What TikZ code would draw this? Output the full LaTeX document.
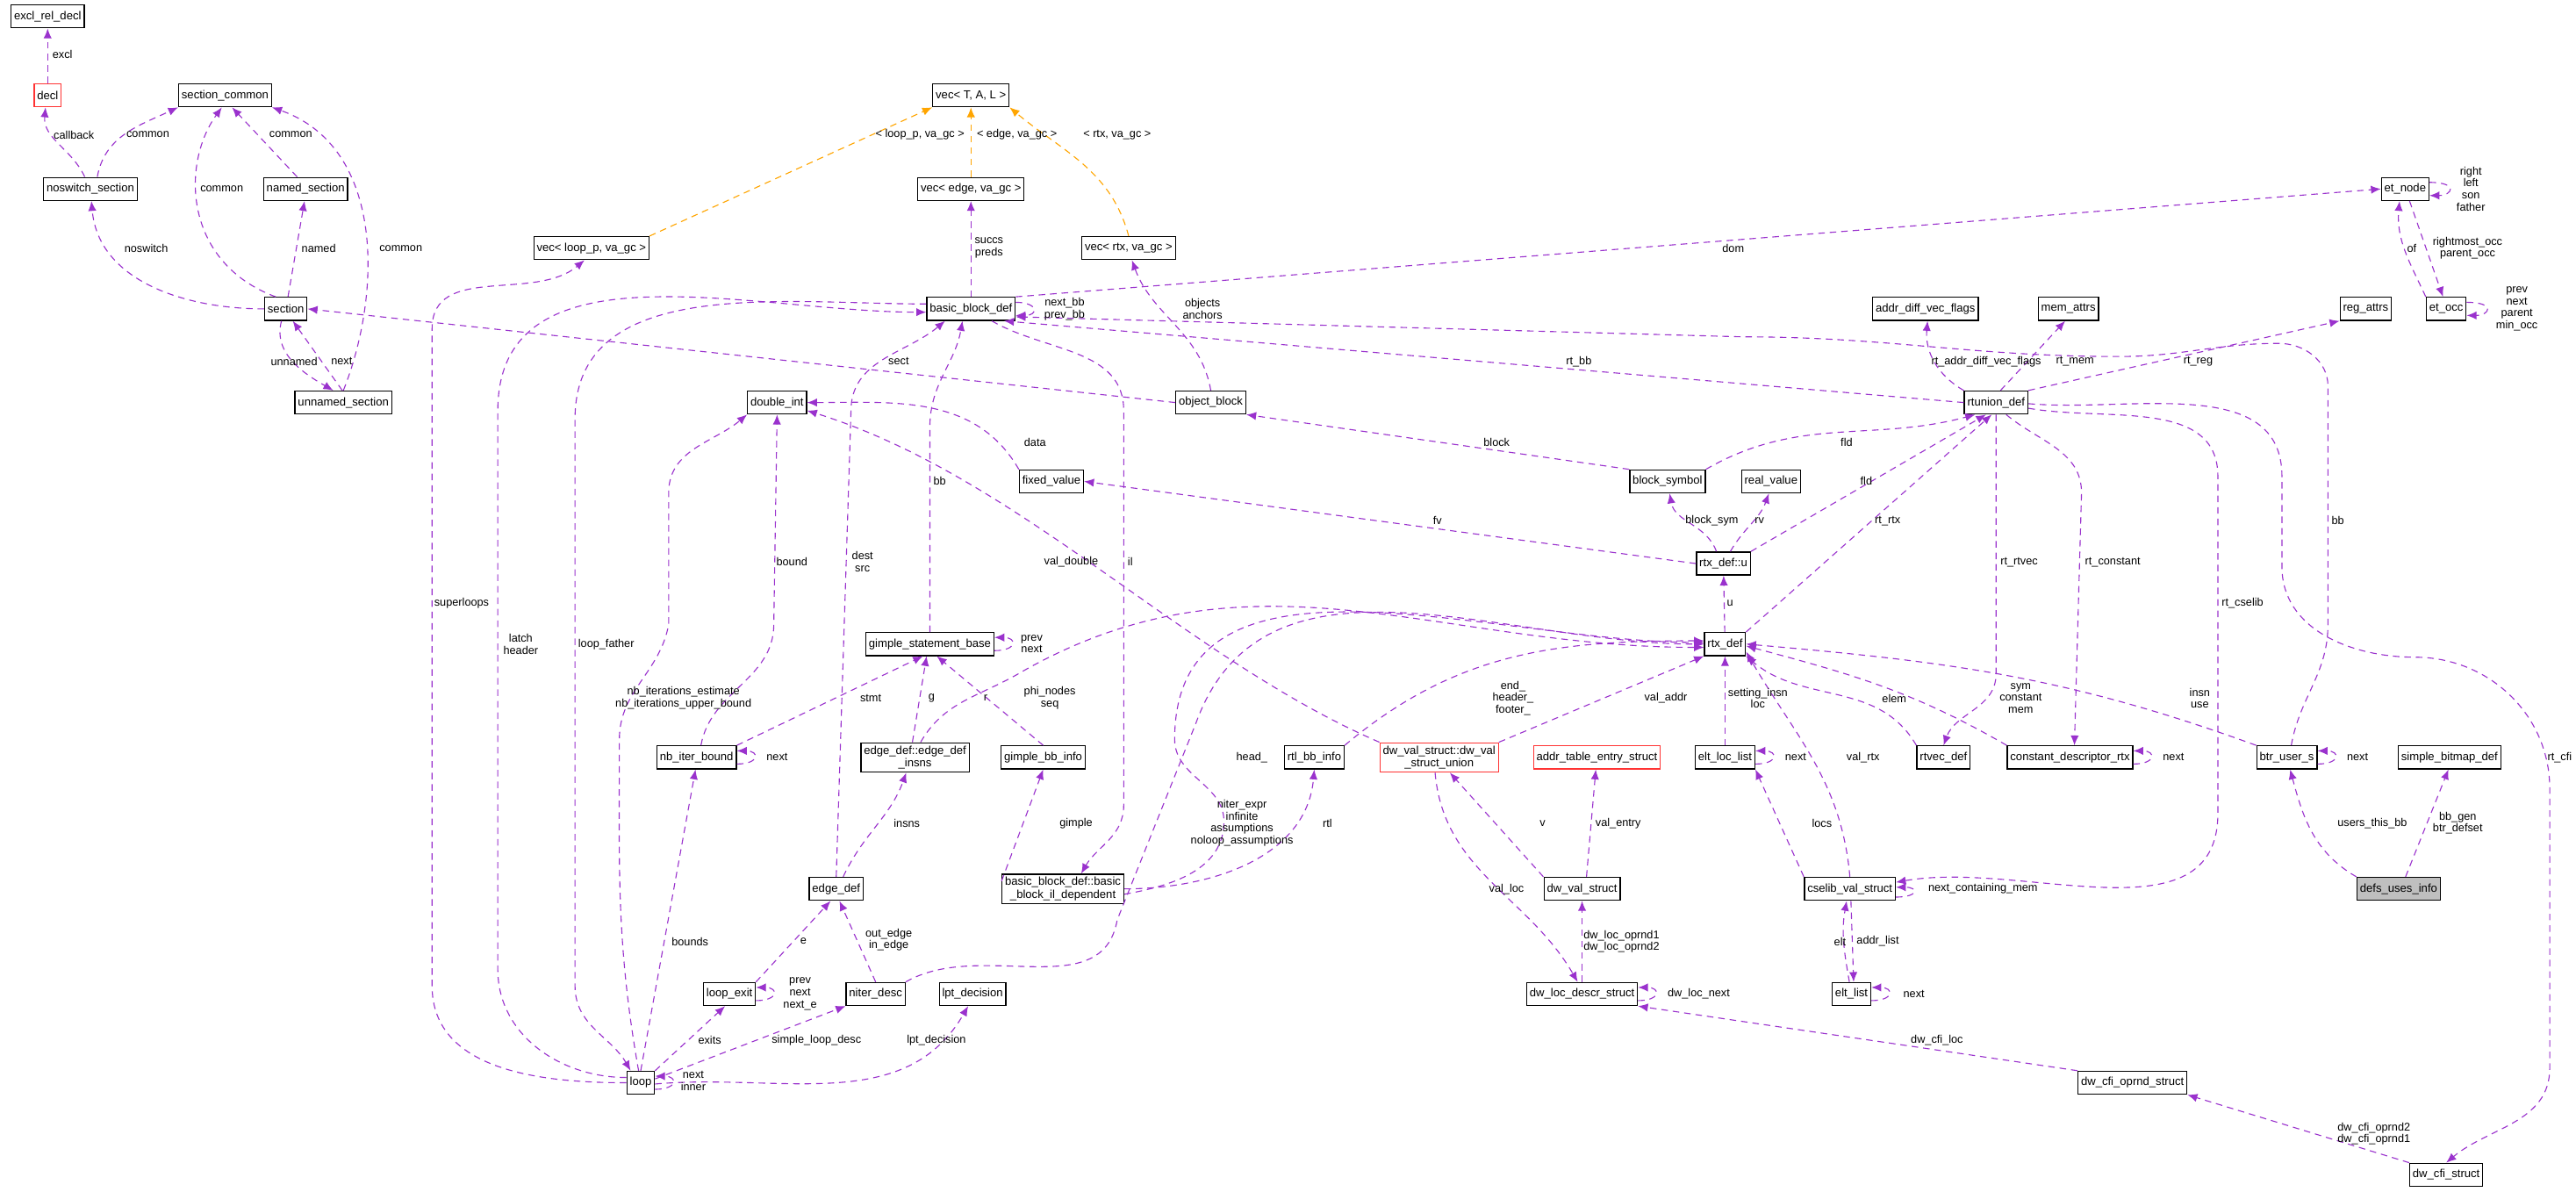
\documentclass[tikz,border=0pt]{standalone}
\usepackage{fontspec}
\setmainfont{Liberation Sans}
\usetikzlibrary{arrows.meta}
\definecolor{refc}{RGB}{154,50,205}
\definecolor{tplc}{RGB}{255,165,0}
\tikzset{
  cls/.style={draw, line width=0.7pt, minimum height=14pt, inner sep=1.8pt, font=\fontsize{7}{7.8}\selectfont, align=center, fill=white},
  redcls/.style={cls, draw=red!80},
  ref/.style={refc, line width=0.6pt, dash pattern=on 4pt off 3pt, -{Latex[length=6pt,width=5pt]}},
  tpl/.style={ref, tplc},
  lbl/.style={font=\fontsize{6.8}{7.3}\selectfont, align=center, inner sep=0.5pt},
}
\begin{document}
\begin{tikzpicture}[x=1pt,y=-1pt]
\useasboundingbox (0,0) rectangle (1568,725);
% classes
\node[cls] (excl) at (29,10) {excl\_rel\_decl};
\node[redcls] (decl) at (29,58) {decl};
\node[cls] (seccommon) at (137,58) {section\_common};
\node[cls] (noswitch) at (55,115) {noswitch\_section};
\node[cls] (named) at (186,115) {named\_section};
\node[cls] (section) at (174,188) {section};
\node[cls] (unnamed) at (209,245) {unnamed\_section};
\node[cls] (veclp) at (360,151) {vec< loop\_p, va\_gc >};
\node[cls] (vectal) at (591,58) {vec< T, A, L >};
\node[cls] (vecedge) at (591,115) {vec< edge, va\_gc >};
\node[cls] (vecrtx) at (687,151) {vec< rtx, va\_gc >};
\node[cls] (bbdef) at (591,188) {basic\_block\_def};
\node[cls] (objblock) at (737,245) {object\_block};
\node[cls] (dblint) at (473,245) {double\_int};
\node[cls] (fixedval) at (640,293) {fixed\_value};
\node[cls] (blocksym) at (1015,293) {block\_symbol};
\node[cls] (realval) at (1078,293) {real\_value};
\node[cls] (rtxu) at (1049,343) {rtx\_def::u};
\node[cls] (etnode) at (1464,115) {et\_node};
\node[cls] (adflags) at (1172,188) {addr\_diff\_vec\_flags};
\node[cls] (memattrs) at (1259,188) {mem\_attrs};
\node[cls] (regattrs) at (1440,188) {reg\_attrs};
\node[cls] (etocc) at (1489,188) {et\_occ};
\node[cls] (rtunion) at (1215,245) {rtunion\_def};
\node[cls] (rtxdef) at (1050,392) {rtx\_def};
\node[cls] (gsbase) at (566,392) {gimple\_statement\_base};
\node[cls] (nbiter) at (424,461) {nb\_iter\_bound};
\node[cls] (insns) at (557,461) {edge\_def::edge\_def\\\_insns};
\node[cls] (gbbinfo) at (635,461) {gimple\_bb\_info};
\node[cls] (rtlbb) at (800,461) {rtl\_bb\_info};
\node[redcls] (dvunion) at (876,461) {dw\_val\_struct::dw\_val\\\_struct\_union};
\node[redcls] (addrtab) at (972,461) {addr\_table\_entry\_struct};
\node[cls] (eltloc) at (1050,461) {elt\_loc\_list};
\node[cls] (rtvec) at (1183,461) {rtvec\_def};
\node[cls] (cdrtx) at (1260,461) {constant\_descriptor\_rtx};
\node[cls] (btruser) at (1392,461) {btr\_user\_s};
\node[cls] (sbitmap) at (1491,461) {simple\_bitmap\_def};
\node[cls] (edgedef) at (509,541) {edge\_def};
\node[cls] (ildep) at (647,541) {basic\_block\_def::basic\\\_block\_il\_dependent};
\node[cls] (dwval) at (963,541) {dw\_val\_struct};
\node[cls] (cselib) at (1126,541) {cselib\_val\_struct};
\node[cls, fill=black!25] (defsuses) at (1460,541) {defs\_uses\_info};
\node[cls] (loopexit) at (444,605) {loop\_exit};
\node[cls] (niterdesc) at (533,605) {niter\_desc};
\node[cls] (lptdec) at (592,605) {lpt\_decision};
\node[cls] (dwloc) at (963,605) {dw\_loc\_descr\_struct};
\node[cls] (eltlist) at (1127,605) {elt\_list};
\node[cls] (loop) at (390,659) {loop};
\node[cls] (cfioprnd) at (1298,659) {dw\_cfi\_oprnd\_struct};
\node[cls] (cfistruct) at (1489,715) {dw\_cfi\_struct};

% template instances
\draw[tpl] (veclp.north east) -- (vectal.south west);
\draw[tpl] (vecedge) -- (vectal);
\draw[tpl] (vecrtx.north) to[out=105,in=-40] (vectal.south east);

% sections
\draw[ref] (decl) -- (excl);
\draw[ref] (noswitch.115) to[out=115,in=-95] (decl.-100);
\draw[ref] (noswitch.60) to[out=80,in=205] (seccommon.south west);
\draw[ref] (named.125) -- (seccommon.-60);
\draw[ref] (section.130) .. controls (112,160) and (110,100) .. (seccommon.-105);
\draw[ref] (unnamed.north) .. controls (232,180) and (235,90) .. (seccommon.south east);
\draw[ref] (section.west) to[out=180,in=-85] (noswitch.-85);
\draw[ref] (section.80) -- (named.-95);
\draw[ref] (section.-110) to[out=-105,in=150] (unnamed.130);
\draw[ref] (unnamed.95) -- (section.-60);
\draw[ref] (objblock.west) -- (section.east);

% basic blocks
\draw[ref] (bbdef) -- (vecedge);
\draw[ref] (objblock.north) to[out=100,in=-70] (vecrtx.-75);
\draw[ref] (bbdef.north east) -- (etnode.west);
\draw[ref] ([yshift=4pt]bbdef.east) .. controls +(14,0) and +(14,0) .. ([yshift=-4pt]bbdef.east);
\draw[ref] ([yshift=4pt]etnode.east) .. controls +(18,0) and +(14,0) .. ([yshift=-4pt]etnode.east);
\draw[ref] ([yshift=4pt]etocc.east) .. controls +(18,0) and +(14,0) .. ([yshift=-4pt]etocc.east);
\draw[ref] (etocc.north west) to[out=115,in=-95] (etnode.-115);
\draw[ref] (etnode.-70) -- (etocc.105);
\draw[ref] (rtunion.north west) to[out=150,in=-95] (adflags.-80);
\draw[ref] (rtunion.70) -- (memattrs.-105);
\draw[ref] (rtunion.north east) -- (regattrs.south west);
\draw[ref] (rtunion.west) -- (bbdef.-20);
\draw[ref] (btruser.70) to[out=80,in=-90] (1417,380) -- (1417,235) to[out=90,in=0] (1387,209) to[out=180,in=0] (1290,217) to[out=180,in=0] (1060,205) -- (bbdef.-10);
\draw[ref] (blocksym.north west) -- (objblock.south east);
\draw[ref] (blocksym.north east) to[out=30,in=-165] (rtunion.-150);
\draw[ref] (rtxu.north east) -- (rtunion.-130);
\draw[ref] (rtxu.120) to[out=110,in=-80] (blocksym.-80);
\draw[ref] (rtxu.60) to[out=60,in=-110] (realval.-100);
\draw[ref] (rtxu.west) -- (fixedval.east);
\draw[ref] (fixedval.north west) to[out=120,in=0] (dblint.east);
\draw[ref] (rtxdef) -- (rtxu);
\draw[ref] (rtxdef.north east) -- (rtunion.-110);
\draw[ref] (rtunion.-90) -- (1215,410) to[out=-90,in=70] (rtvec.north);
\draw[ref] (rtunion.-50) to[out=-40,in=90] (1267,300) -- (cdrtx.70);
\draw[ref] (rtunion.-10) to[out=-10,in=90] (1350,290) -- (1350,495) to[out=-90,in=10] ([yshift=4pt]cselib.east);
\draw[ref] (rtunion.-2) to[out=-5,in=90] (1389,290) -- (1389,345) to[out=-90,in=180] (1470,400) to[out=0,in=90] (1552,480) -- (1552,650) to[out=-90,in=40] (cfistruct.north);

% loops
\draw[ref] (loop.west) to[out=180,in=-90] (263,600) -- (263,200) to[out=90,in=-140] (veclp.-120);
\draw[ref] (loop.160) to[out=180,in=-90] (303,590) -- (303,250) to[out=90,in=180] ([yshift=-2pt]bbdef.west);
\draw[ref] ([yshift=3pt]bbdef.west) to[out=180,in=90] (350,255) -- (350,600) to[out=-90,in=120] (loop.130);
\draw[ref] (loop.100) to[out=100,in=-90] (377,450) to[out=90,in=-100] (407,380) -- (407,300) to[out=90,in=-140] (dblint.south west);
\draw[ref] (nbiter.70) to[out=80,in=-90] (471,380) -- (dblint.south);
\draw[ref] ([yshift=-4pt]nbiter.east) .. controls +(14,0) and +(14,0) .. ([yshift=4pt]nbiter.east);
\draw[ref] (nbiter.north east) -- (gsbase.-120);
\draw[ref] (loop.north) -- (nbiter.-95);
\draw[ref] (loop.north east) -- (loopexit.-110);
\draw[ref] ([yshift=-4pt]loopexit.east) .. controls +(14,0) and +(14,0) .. ([yshift=4pt]loopexit.east);
\draw[ref] (loopexit.north east) -- (edgedef.-115);
\draw[ref] (niterdesc.north) -- (edgedef.-75);
\draw[ref] (loop.15) -- (niterdesc.south west);
\draw[ref] (loop.-5) to[out=5,in=-120] (lptdec.-110);
\draw[ref] ([yshift=-4pt]loop.east) .. controls +(14,0) and +(14,0) .. ([yshift=4pt]loop.east);
\draw[ref] (edgedef.north) -- (518,250) to[out=90,in=-140] (bbdef.-155);
\draw[ref] (edgedef.60) to[out=65,in=-110] (insns.-120);
\draw[ref] (insns.100) -- (gsbase.-105);
\draw[ref] (insns.70) to[out=60,in=-150] (620,410) to[out=30,in=180] ([yshift=-2pt]rtxdef.west);
\draw[ref] (gsbase.north) -- (566,260) to[out=90,in=-100] (bbdef.-125);
\draw[ref] ([yshift=-4pt]gsbase.east) .. controls +(14,0) and +(14,0) .. ([yshift=4pt]gsbase.east);
\draw[ref] (gbbinfo.north) -- (gsbase.-60);
\draw[ref] (ildep.-175) ++(0,-8) -- (gbbinfo.south);
\draw[ref] (ildep.east) to[out=0,in=-95] (rtlbb.south);
\draw[ref] (bbdef.-30) to[out=-30,in=90] (684,250) -- (684,490) to[out=-90,in=60] (ildep.40);
\draw[ref] (rtlbb.north east) to[out=40,in=180] ([yshift=2pt]rtxdef.west);
\draw[ref] (ildep.-5) to[out=10,in=-90] (745,500) to[out=90,in=-90] (715,450) to[out=90,in=180] ([yshift=1pt]rtxdef.west);
\draw[ref] (niterdesc.north east) to[out=30,in=-100] (680,560) -- (728,440) to[out=70,in=180] (rtxdef.west);

% dwarf
\draw[ref] (dvunion.north west) .. controls (720,400) and (620,290) .. (dblint.-15);
\draw[ref] (dvunion.north east) -- (rtxdef.south west);
\draw[ref] (dvunion.-105) to[out=-85,in=120] (dwloc.110);
\draw[ref] (dwval.north west) -- (dvunion.-55);
\draw[ref] (dwval.70) -- (addrtab.-95);
\draw[ref] (dwloc) -- (dwval);
\draw[ref] ([yshift=-4pt]dwloc.east) .. controls +(14,0) and +(14,0) .. ([yshift=4pt]dwloc.east);
\draw[ref] (cfioprnd.north west) -- (dwloc.south east);
\draw[ref] (cfistruct.north west) -- (cfioprnd.south east);

% rtx users
\draw[ref] (eltloc) -- (rtxdef);
\draw[ref] ([yshift=-4pt]eltloc.east) .. controls +(14,0) and +(14,0) .. ([yshift=4pt]eltloc.east);
\draw[ref] (rtvec.north west) to[out=120,in=-40] (rtxdef.south east);
\draw[ref] (cdrtx.north west) to[out=150,in=-15] (rtxdef.-5);
\draw[ref] ([yshift=-4pt]cdrtx.east) .. controls +(14,0) and +(14,0) .. ([yshift=4pt]cdrtx.east);
\draw[ref] (cselib.north) to[out=95,in=-60] (rtxdef.-20);
\draw[ref] (cselib.north west) -- (eltloc.south east);
\draw[ref] ([yshift=-5pt]cselib.east) .. controls +(14,0) and +(14,0) .. ([yshift=1pt]cselib.east);
\draw[ref] (cselib.-85) -- (eltlist.80);
\draw[ref] (eltlist.100) to[out=100,in=-100] (cselib.-105);
\draw[ref] ([yshift=-4pt]eltlist.east) .. controls +(14,0) and +(14,0) .. ([yshift=4pt]eltlist.east);
\draw[ref] (btruser.north west) to[out=160,in=-5] (rtxdef.east);
\draw[ref] ([yshift=-4pt]btruser.east) .. controls +(14,0) and +(14,0) .. ([yshift=4pt]btruser.east);
\draw[ref] (defsuses.north west) to[out=150,in=-75] (btruser.-75);
\draw[ref] (defsuses.60) -- (sbitmap.-95);

% labels
\node[lbl] (lexcl) at (38,33) {excl};
\node[lbl] (lcallback) at (45,82) {callback};
\node[lbl] (lcommon1) at (90,82) {common};
\node[lbl] (lcommon2) at (177,82) {common};
\node[lbl] (lcommon3) at (135,115) {common};
\node[lbl] (lnamed) at (194,151) {named};
\node[lbl] (lcommon4) at (244,151) {common};
\node[lbl] (lnoswitch) at (89,151) {noswitch};
\node[lbl] (lunnamed) at (179,220) {unnamed};
\node[lbl] (lnext1) at (208,220) {next};
\node[lbl] (lsuper) at (281,367) {superloops};
\node[lbl] (lbound) at (482,342) {bound};
\node[lbl] (ldest) at (525,342) {dest\\src};
\node[lbl] (lvlp) at (560,82) {< loop\_p, va\_gc >};
\node[lbl] (lvedge) at (619,82) {< edge, va\_gc >};
\node[lbl] (lvrtx) at (680,82) {< rtx, va\_gc >};
\node[lbl] (lsuccs) at (602,151) {succs\\preds};
\node[lbl] (lobj) at (732,188) {objects\\anchors};
\node[lbl] (lnextbb) at (648,188) {next\_bb\\prev\_bb};
\node[lbl] (ldom) at (1055,151) {dom};
\node[lbl] (lsect) at (547,220) {sect};
\node[lbl] (lrtbb) at (961,220) {rt\_bb};
\node[lbl] (ldata) at (630,269) {data};
\node[lbl] (lblock) at (911,269) {block};
\node[lbl] (lbb1) at (572,293) {bb};
\node[lbl] (lfv) at (875,317) {fv};
\node[lbl] (lbsym) at (1042,317) {block\_sym};
\node[lbl] (lvdbl) at (652,342) {val\_double};
\node[lbl] (lil) at (688,342) {il};
\node[lbl] (lu) at (1053,367) {u};
\node[lbl] (lright) at (1504,115) {right\\left\\son\\father};
\node[lbl] (lof) at (1468,151) {of};
\node[lbl] (lrmocc) at (1502,151) {rightmost\_occ\\parent\_occ};
\node[lbl] (lprev1) at (1532,188) {prev\\next\\parent\\min\_occ};
\node[lbl] (ladv) at (1209,220) {rt\_addr\_diff\_vec\_flags};
\node[lbl] (lrtmem) at (1263,220) {rt\_mem};
\node[lbl] (lrtreg) at (1338,220) {rt\_reg};
\node[lbl] (lfld1) at (1124,269) {fld};
\node[lbl] (lfld2) at (1136,293) {fld};
\node[lbl] (lrv) at (1071,317) {rv};
\node[lbl] (lrtrtx) at (1149,317) {rt\_rtx};
\node[lbl] (lbb2) at (1423,317) {bb};
\node[lbl] (lrtvec) at (1229,342) {rt\_rtvec};
\node[lbl] (lrtconst) at (1286,342) {rt\_constant};
\node[lbl] (lrtcselib) at (1365,367) {rt\_cselib};
\node[lbl] (llatch) at (317,392) {latch\\header};
\node[lbl] (llf) at (369,392) {loop\_father};
\node[lbl] (lnbit) at (416,425) {nb\_iterations\_estimate\\nb\_iterations\_upper\_bound};
\node[lbl] (lnext2) at (473,461) {next};
\node[lbl] (lbounds) at (420,573) {bounds};
\node[lbl] (le) at (489,573) {e};
\node[lbl] (lprev2) at (487,605) {prev\\next\\next\_e};
\node[lbl] (lexits) at (432,633) {exits};
\node[lbl] (lsld) at (497,633) {simple\_loop\_desc};
\node[lbl] (lnext3) at (422,658) {next\\inner};
\node[lbl] (lstmt) at (530,425) {stmt};
\node[lbl] (loutedge) at (541,572) {out\_edge\\in\_edge};
\node[lbl] (lprev3) at (628,392) {prev\\next};
\node[lbl] (lg) at (567,425) {g};
\node[lbl] (lr) at (600,425) {r};
\node[lbl] (lphi) at (639,425) {phi\_nodes\\seq};
\node[lbl] (linsns) at (552,501) {insns};
\node[lbl] (lgimple) at (655,501) {gimple};
\node[lbl] (lhead) at (762,461) {head\_};
\node[lbl] (lniter) at (756,501) {niter\_expr\\infinite\\assumptions\\noloop\_assumptions};
\node[lbl] (lrtl) at (808,501) {rtl};
\node[lbl] (lend) at (921,425) {end\_\\header\_\\footer\_};
\node[lbl] (lvaddr) at (1014,425) {val\_addr};
\node[lbl] (lv) at (939,501) {v};
\node[lbl] (lventry) at (985,501) {val\_entry};
\node[lbl] (lvloc) at (917,541) {val\_loc};
\node[lbl] (lopr) at (987,573) {dw\_loc\_oprnd1\\dw\_loc\_oprnd2};
\node[lbl] (ldwnext) at (1034,605) {dw\_loc\_next};
\node[lbl] (llpt) at (570,633) {lpt\_decision};
\node[lbl] (lsetting) at (1070,425) {setting\_insn\\loc};
\node[lbl] (lelem) at (1153,425) {elem};
\node[lbl] (lsym) at (1230,425) {sym\\constant\\mem};
\node[lbl] (linsn) at (1339,425) {insn\\use};
\node[lbl] (lnext4) at (1093,461) {next};
\node[lbl] (lnext5) at (1323,461) {next};
\node[lbl] (lnext6) at (1435,461) {next};
\node[lbl] (lvalrtx) at (1134,461) {val\_rtx};
\node[lbl] (lrtcfi) at (1558,461) {rt\_cfi};
\node[lbl] (llocs) at (1109,501) {locs};
\node[lbl] (lusers) at (1444,501) {users\_this\_bb};
\node[lbl] (lbbgen) at (1496,501) {bb\_gen\\btr\_defset};
\node[lbl] (lncm) at (1207,541) {next\_containing\_mem};
\node[lbl] (lelt) at (1120,573) {elt};
\node[lbl] (laddrl) at (1143,573) {addr\_list};
\node[lbl] (lnext7) at (1165,605) {next};
\node[lbl] (lcfiloc) at (1179,633) {dw\_cfi\_loc};
\node[lbl] (lcfiopr) at (1445,690) {dw\_cfi\_oprnd2\\dw\_cfi\_oprnd1};
\end{tikzpicture}
\end{document}
